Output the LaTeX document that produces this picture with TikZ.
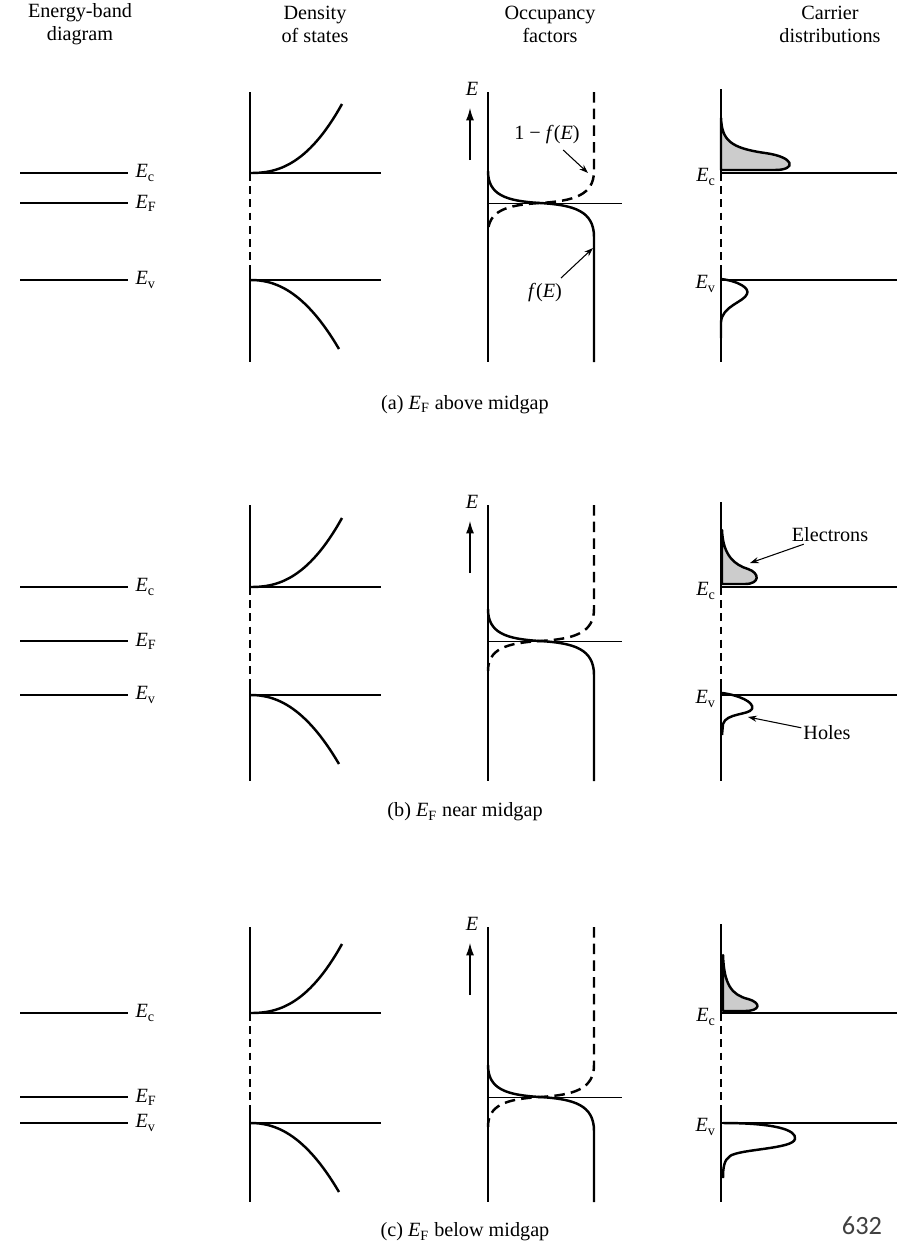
\documentclass[tikz,border=0pt]{standalone}
\usepackage{fontspec}
\setmainfont{Liberation Serif}
\newfontfamily\pagenumfont{Carlito}
\usetikzlibrary{arrows.meta}
\newcommand{\Elev}[1]{\textit{E}\textsubscript{#1}}

\begin{document}
\begin{tikzpicture}[x=0.02cm,y=-0.02cm,
  level/.style={line width=0.7pt},
  axis/.style={line width=0.8pt},
  gapaxis/.style={line width=0.8pt,dash pattern=on 4.5pt off 3pt},
  fermi/.style={line width=0.45pt},
  curve/.style={line width=1.4pt,line join=round},
  dcurve/.style={line width=1.4pt,dash pattern=on 6pt off 3.5pt},
  txt/.style={font=\fontsize{11.5}{13}\selectfont,inner sep=1pt},
  head/.style={txt,align=center},
  pointer/.style={-{Stealth[length=5pt,width=3.5pt]},line width=0.6pt},
  eaxis/.style={-{Latex[length=7pt,width=4.5pt]},line width=0.7pt}
]
\useasboundingbox (0,0) rectangle (903,1244);

% column headings
\node[head] (hband) at (80,24) {Energy-band\\diagram};
\node[head] (hdos) at (315,24) {Density\\of states};
\node[head] (hocc) at (550,24) {Occupancy\\factors};
\node[head] (hcar) at (830,24) {Carrier\\distributions};

% the three cases
\foreach \p/\ec/\ef/\ev/\ytop/\ybot/\capy/\where in
  {a/173/203/280/92/362/405/above, b/587/641/695/505/781/812/near, c/1013/1097/1123/927/1202/1232/below}{
  % energy-band diagram
  \draw[level] (20,\ec) -- (128,\ec) node[txt,anchor=west,xshift=3pt] (bc\p) {\Elev{c}};
  \draw[level] (20,\ef) -- (128,\ef) node[txt,anchor=west,xshift=3pt] (bf\p) {\Elev{F}};
  \draw[level] (20,\ev) -- (128,\ev) node[txt,anchor=west,xshift=3pt] (bv\p) {\Elev{v}};
  % density of states
  \draw[axis] (250,\ytop) -- (250,\ec);
  \draw[gapaxis] (250,\ec) -- (250,{\ev-10});
  \draw[axis] (250,{\ev-10}) -- (250,\ybot);
  \draw[level] (250,\ec) -- (381,\ec);
  \draw[level] (250,\ev) -- (381,\ev);
  \draw[curve] plot[domain=0:92,samples=30] ({250+\x},{\ec-69*(\x/92)^2.4});
  \draw[curve] plot[domain=0:89,samples=30] ({250+\x},{\ev+69*(\x/89)^2.2});
  % occupancy factors
  \draw[axis] (488,\ytop) -- (488,\ybot);
  \draw[fermi] (488,\ef) -- (622,\ef);
  \draw[curve] (488,{\ef-32}) .. controls (488,{\ef-8}) and (506,{\ef-2}) .. (540,\ef)
    .. controls (574,{\ef+2}) and (594,{\ef+8}) .. (594,{\ef+34}) -- (594,\ybot);
  \draw[dcurve] (594,\ytop) -- (594,{\ef-32}) .. controls (594,{\ef-8}) and (574,{\ef-2}) .. (540,\ef)
    .. controls (506,{\ef+2}) and (488,{\ef+8}) .. (488,{\ef+30});
  \draw[eaxis] (470,{\ytop+68}) -- (470,{\ytop+16});
  \node[txt] (e\p) at (472,{\ytop-3}) {\textit{E}};
  % carrier distributions
  \draw[axis] (721,{\ytop-3}) -- (721,\ec);
  \draw[gapaxis] (721,\ec) -- (721,{\ev-10});
  \draw[axis] (721,{\ev-10}) -- (721,\ybot);
  \draw[level] (721,\ec) -- (897,\ec);
  \draw[level] (721,\ev) -- (897,\ev);
  \node[txt,anchor=east] (cc\p) at (718,{\ec+4}) {\Elev{c}};
  \node[txt,anchor=east] (cv\p) at (718,{\ev+4}) {\Elev{v}};
  \node[txt] (cap\p) at (465,\capy) {(\p) \Elev{F} \where\ midgap};
}

% electrons and holes
\draw[curve,fill=black!20] (721,118) .. controls (722,140) and (730,148) .. (765,153) .. controls (795,157) and (797,170) .. (775,170) -- (721,170) -- cycle;
\draw[curve] (721,279) .. controls (738,281) and (750,288) .. (747,294) .. controls (744,302) and (722,306) .. (721,322) -- (721,338);
\draw[curve,fill=black!20] (722,530) .. controls (723,556) and (735,565) .. (748,569) .. controls (760,573) and (760,584) .. (745,584) -- (722,584) -- cycle;
\draw[curve] (722,693) .. controls (738,695) and (755,702) .. (752,709) .. controls (749,715) and (726,713) .. (723,724) -- (722,735);
\draw[curve,fill=black!20] (723,955) .. controls (724,985) and (732,995) .. (748,999) .. controls (762,1003) and (760,1011) .. (745,1011) -- (723,1011) -- cycle;
\draw[curve] (723,1123) .. controls (775,1123) and (797,1130) .. (795,1139) .. controls (793,1149) and (740,1149) .. (730,1156) .. controls (724,1160) and (723,1168) .. (723,1178);

% pointers
\node[txt] (omf) at (547,135) {1 − \textit{f}(\textit{E})};
\coordinate (omfp) at (588,173);
\draw[pointer,shorten <=3pt] (omf) -- (omfp);
\node[txt] (fe) at (545,293) {\textit{f}(\textit{E})};
\coordinate (fep) at (593,248);
\draw[pointer,shorten <=3pt] (fe) -- (fep);
\node[txt] (elec) at (830,535) {Electrons};
\coordinate (elecp) at (750,563);
\draw[pointer] (elec) -- (elecp);
\node[txt] (hole) at (827,733) {Holes};
\coordinate (holep) at (748,717);
\draw[pointer] (hole) -- (holep);

\node[font=\pagenumfont\fontsize{15}{15}\selectfont,text=black!75] (pagenum) at (862,1226) {632};
\end{tikzpicture}
\end{document}
